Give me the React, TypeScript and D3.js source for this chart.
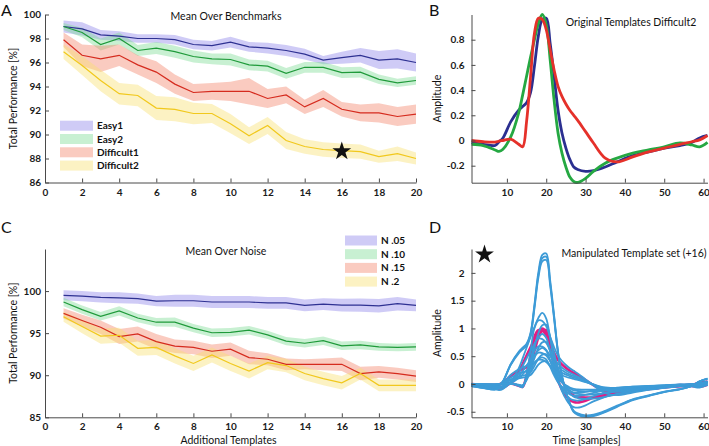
import React, { useEffect, useRef } from "react";
import * as d3 from "d3";

const width = 709;
const height = 446;
const font = "Lato, 'Open Sans', sans-serif";

// number of additional templates (x of panels A and C)
const additional = [1, 2, 3, 4, 5, 6, 7, 8, 9, 10, 11, 12, 13, 14, 15, 16, 17, 18, 19, 20];

// Panel A - mean over benchmarks
const benchLabels = ["Easy1", "Easy2", "Difficult1", "Difficult2"];
const easy1Mean = [99.0, 98.8, 98.3, 98.2, 98.0, 98.0, 97.9, 97.5, 97.4, 97.7, 97.3, 97.2, 97.0, 96.7, 96.2, 96.4, 96.6, 96.2, 96.3, 96.0];
const easy1Sd = [0.5, 0.55, 0.4, 0.4, 0.35, 0.35, 0.4, 0.4, 0.4, 0.45, 0.4, 0.45, 0.45, 0.45, 0.35, 0.5, 0.6, 0.75, 0.8, 0.75];
const easy2Mean = [99.0, 98.5, 97.5, 98.0, 97.0, 97.2, 96.9, 96.5, 96.3, 96.25, 95.8, 95.7, 95.1, 95.6, 95.6, 95.15, 95.2, 94.6, 94.3, 94.5];
const easy2Sd = [0.3, 0.4, 0.5, 0.5, 0.45, 0.5, 0.5, 0.5, 0.45, 0.5, 0.45, 0.45, 0.45, 0.45, 0.45, 0.45, 0.45, 0.4, 0.35, 0.35];
const diff1Mean = [97.9, 96.6, 96.3, 96.6, 95.8, 95.2, 94.2, 93.5, 93.6, 93.6, 93.6, 93.0, 93.3, 92.3, 93.0, 92.1, 91.8, 91.8, 91.5, 91.7];
const diff1Sd = [0.6, 0.9, 1.1, 0.9, 0.8, 0.9, 0.8, 0.7, 0.7, 0.8, 1.1, 0.8, 0.7, 0.6, 0.7, 0.6, 0.7, 0.8, 0.8, 0.8];
const diff2Mean = [96.9, 95.75, 94.5, 93.4, 93.25, 92.2, 92.1, 91.75, 91.75, 90.9, 89.9, 90.75, 89.5, 89.0, 88.75, 88.65, 88.57, 88.15, 88.4, 88.0];
const diff2Sd = [0.6, 0.8, 0.9, 0.9, 0.9, 1.0, 1.0, 0.9, 0.8, 0.8, 0.7, 0.7, 0.7, 0.6, 0.6, 0.6, 0.6, 0.5, 0.6, 0.5];
const starTemplates = 16;
const starPerformance = 88.6;

// Panel C - mean over noise
const noiseLabels = ["N .05", "N .10", "N .15", "N .2"];
const n05Mean = [99.5, 99.4, 99.25, 99.2, 99.1, 98.8, 98.85, 98.85, 98.7, 98.7, 98.7, 98.6, 98.6, 98.3, 98.45, 98.33, 98.33, 98.25, 98.5, 98.3];
const n05Sd = [0.6, 0.6, 0.6, 0.65, 0.6, 0.6, 0.7, 0.7, 0.7, 0.7, 0.7, 0.7, 0.7, 0.7, 0.7, 0.75, 0.8, 0.8, 0.8, 0.7];
const n10Mean = [98.7, 97.8, 97.0, 97.65, 96.8, 96.3, 96.3, 95.6, 95.05, 95.1, 95.35, 94.8, 94.05, 93.8, 94.1, 93.5, 93.6, 93.37, 93.3, 93.37];
const n10Sd = [0.5, 0.5, 0.5, 0.55, 0.5, 0.5, 0.55, 0.5, 0.5, 0.5, 0.5, 0.5, 0.5, 0.5, 0.5, 0.5, 0.5, 0.45, 0.45, 0.45];
const n15Mean = [97.35, 96.5, 95.7, 94.6, 94.9, 94.0, 93.45, 93.3, 92.85, 93.1, 92.1, 91.9, 91.3, 91.3, 91.3, 91.3, 90.2, 90.4, 90.2, 89.9];
const n15Sd = [0.6, 0.7, 0.8, 0.9, 0.9, 0.9, 0.8, 0.8, 0.8, 0.8, 0.8, 0.7, 0.7, 0.6, 0.7, 0.8, 0.8, 0.7, 0.7, 0.7];
const n20Mean = [96.95, 95.8, 94.65, 94.75, 93.2, 93.3, 92.3, 91.4, 92.4, 91.4, 90.5, 91.5, 91.15, 90.2, 89.6, 89.1, 90.2, 88.8, 88.8, 88.8];
const n20Sd = [0.6, 0.8, 0.9, 0.9, 0.9, 0.9, 0.9, 0.9, 0.9, 0.9, 0.9, 0.8, 0.8, 0.8, 0.8, 0.8, 0.7, 0.7, 0.7, 0.7];

// Panel B - original templates (sample index, amplitude)
const samples = [1, 4, 7, 8, 9, 11, 13, 14, 15, 16, 17, 18, 19, 20, 21, 22, 23, 24, 25, 26, 27, 28, 30, 32, 35, 38, 42, 46, 50, 54, 57, 59, 61];
const templateNavy = [-0.016, -0.03, -0.04, -0.01, 0.02, 0.15, 0.24, 0.27, 0.3, 0.38, 0.59, 0.83, 0.96, 0.97, 0.77, 0.51, 0.24, 0.06, -0.06, -0.15, -0.21, -0.23, -0.245, -0.24, -0.21, -0.17, -0.12, -0.09, -0.06, -0.04, -0.015, 0.02, 0.04];
const templateGreen = [-0.03, -0.04, -0.075, -0.087, -0.07, 0.03, 0.22, 0.36, 0.51, 0.66, 0.8, 0.93, 1.0, 0.92, 0.64, 0.32, 0.06, -0.1, -0.21, -0.29, -0.325, -0.333, -0.3, -0.245, -0.18, -0.14, -0.1, -0.075, -0.05, -0.02, -0.035, -0.05, -0.015];
const templateRed = [0.0, -0.01, -0.013, -0.005, 0.0, 0.01, -0.03, -0.05, 0.15, 0.5, 0.85, 0.97, 0.96, 0.88, 0.72, 0.56, 0.43, 0.35, 0.29, 0.24, 0.2, 0.16, 0.07, -0.02, -0.14, -0.17, -0.13, -0.09, -0.06, -0.03, -0.01, 0.005, 0.04];

// Panel D - manipulated set: which original template and its gain
const manipTemplate = [0, 0, 0, 0, 0, 0, 0, 1, 1, 1, 1, 2, 2, 2, 2, 2];
const manipGain = [2.42, 2.36, 2.3, 1.1, 0.78, 0.55, 0.42, 1.28, 0.9, 0.65, 0.48, 1.18, 0.84, 0.7, 0.58, 0.45];

const lineColors = ["#2e3192", "#1f9a3a", "#d52b1e", "#f1c81c"];
const bandColors = ["#8c84ea", "#7ddc93", "#f2826a", "#f8e070"];
const templateColors = ["#2b2f90", "#25a842", "#e5312a"];

const axisColor = "#4a4a4a";

function styleAxis(g: any) {
  g.attr("font-family", font).attr("font-size", 10);
  g.select(".domain").attr("stroke", axisColor).attr("stroke-width", 1);
  g.selectAll(".tick line").attr("stroke", axisColor);
  g.selectAll(".tick text").attr("font-weight", "bold").attr("fill", "#1a1a1a");
}

function addText(svg: any, x: number, y: number, text: string, size: number, opts: any = {}) {
  const t = svg
    .append("text")
    .attr("x", x)
    .attr("y", y)
    .attr("font-family", font)
    .attr("font-size", size)
    .attr("fill", "#111")
    .attr("text-anchor", opts.anchor || "middle")
    .attr("font-weight", opts.weight || "normal")
    .text(text);
  if (opts.rotate) t.attr("transform", `rotate(-90,${x},${y})`);
  return t;
}

function drawPerformance(svg: any, cfg: any) {
  const x = d3.scaleLinear().domain([0, 20]).range([45, 416]);
  const y = d3.scaleLinear().domain(cfg.yDomain).range(cfg.yRange);

  const g = svg.append("g");
  cfg.means.forEach((m: number[], k: number) => {
    const sd = cfg.sds[k];
    const area = d3
      .area<number>()
      .x((d, i) => x(additional[i]))
      .y0((d, i) => y(d - sd[i]))
      .y1((d, i) => y(d + sd[i]));
    g.append("path")
      .attr("d", area(m))
      .attr("fill", bandColors[k])
      .attr("fill-opacity", 0.42);
  });

  const line = d3
    .line<number>()
    .x((d, i) => x(additional[i]))
    .y((d) => y(d));
  cfg.means.forEach((m: number[], k: number) => {
    g.append("path")
      .attr("d", line(m))
      .attr("fill", "none")
      .attr("stroke", lineColors[k])
      .attr("stroke-width", 1.2);
  });

  const xAxis = svg
    .append("g")
    .attr("transform", `translate(0,${cfg.yRange[0]})`)
    .call(
      d3
        .axisBottom(x)
        .tickValues([0, 2, 4, 6, 8, 10, 12, 14, 16, 18, 20])
        .tickSize(-4)
        .tickSizeOuter(0)
        .tickPadding(6)
        .tickFormat((d: any) => String(d))
    );
  styleAxis(xAxis);

  const yAxis = svg
    .append("g")
    .attr("transform", `translate(45,0)`)
    .call(
      d3
        .axisLeft(y)
        .tickValues(cfg.yTicks)
        .tickSize(-4)
        .tickSizeOuter(0)
        .tickPadding(4)
        .tickFormat((d: any) => String(d))
    );
  styleAxis(yAxis);

  addText(svg, 226, cfg.titleY, cfg.title, 10.5);
  addText(svg, 17, (cfg.yRange[0] + cfg.yRange[1]) / 2, "Total Performance [%]", 10.5, { rotate: true });

  // legend
  const lg = svg.append("g");
  cfg.labels.forEach((label: string, k: number) => {
    const cy = cfg.legend.y + k * cfg.legend.step;
    lg.append("rect")
      .attr("x", cfg.legend.x)
      .attr("y", cy - 5)
      .attr("width", cfg.legend.w)
      .attr("height", 10)
      .attr("fill", bandColors[k])
      .attr("fill-opacity", 0.42);
    lg.append("text")
      .attr("x", cfg.legend.x + cfg.legend.w + 4)
      .attr("y", cy + 3.5)
      .attr("font-family", font)
      .attr("font-size", 10)
      .attr("font-weight", "bold")
      .attr("fill", "#111")
      .text(label);
  });

  return { x, y };
}

function drawTemplates(svg: any, cfg: any) {
  const x = d3.scaleLinear().domain([1, 61]).range([471.5, 707.5]);
  const y = d3.scaleLinear().domain(cfg.yDomain).range(cfg.yRange);
  const line = d3
    .line<number>()
    .x((d, i) => x(samples[i]))
    .y((d) => y(d))
    .curve(d3.curveCatmullRom.alpha(0.5));

  const g = svg.append("g");
  cfg.curves.forEach((c: any) => {
    g.append("path")
      .attr("d", line(c.values))
      .attr("fill", "none")
      .attr("stroke", c.color)
      .attr("stroke-width", c.width)
      .attr("stroke-linejoin", "round");
  });

  const xAxis = svg
    .append("g")
    .attr("transform", `translate(0,${cfg.yRange[0]})`)
    .call(
      d3
        .axisBottom(x)
        .tickValues([10, 20, 30, 40, 50, 60])
        .tickSize(-4)
        .tickSizeOuter(0)
        .tickPadding(6)
        .tickFormat((d: any) => String(d))
    );
  styleAxis(xAxis);

  const yAxis = svg
    .append("g")
    .attr("transform", `translate(471.5,0)`)
    .call(
      d3
        .axisLeft(y)
        .tickValues(cfg.yTicks)
        .tickSize(-4)
        .tickSizeOuter(0)
        .tickPadding(7)
        .tickFormat((d: any) => String(d))
    );
  styleAxis(yAxis);

  addText(svg, cfg.titleX, cfg.titleY, cfg.title, 10.5);
  addText(svg, 441, (cfg.yRange[0] + cfg.yRange[1]) / 2, "Amplitude", 10.5, { rotate: true });
  return { x, y };
}

const App = () => {
  const ref = useRef<SVGSVGElement>(null);

  useEffect(() => {
    const svg = d3.select(ref.current);
    svg.selectAll("*").remove();
    const star = d3.symbol().type(d3.symbolStar).size(110);

    // A
    const a = drawPerformance(svg, {
      yDomain: [86, 100],
      yRange: [182.5, 14.5],
      yTicks: [86, 88, 90, 92, 94, 96, 98, 100],
      means: [easy1Mean, easy2Mean, diff1Mean, diff2Mean],
      sds: [easy1Sd, easy2Sd, diff1Sd, diff2Sd],
      labels: benchLabels,
      title: "Mean Over Benchmarks",
      titleY: 20,
      legend: { x: 60, y: 125.7, step: 13.3, w: 33 },
    });
    svg
      .append("path")
      .attr("d", star())
      .attr("transform", `translate(${a.x(starTemplates)},${a.y(starPerformance)})`)
      .attr("fill", "#111");

    // C
    const c = drawPerformance(svg, {
      yDomain: [85, 105],
      yRange: [417.3, 249],
      yTicks: [85, 90, 95, 100],
      means: [n05Mean, n10Mean, n15Mean, n20Mean],
      sds: [n05Sd, n10Sd, n15Sd, n20Sd],
      labels: noiseLabels,
      title: "Mean Over Noise",
      titleY: 254.5,
      legend: { x: 345, y: 240.5, step: 13.7, w: 32 },
    });
    addText(svg, (c.x(0) + c.x(20)) / 2 - 2, 443.5, "Additional Templates", 10.5);

    // B
    const templates = [templateNavy, templateGreen, templateRed];
    drawTemplates(svg, {
      yDomain: [-0.335, 1.0],
      yRange: [182.7, 14.5],
      yTicks: [-0.2, 0, 0.2, 0.4, 0.6, 0.8],
      curves: templates.map((t, k) => ({ values: t, color: templateColors[k], width: 2.8 })),
      title: "Original Templates Difficult2",
      titleX: 631,
      titleY: 26,
    });

    // D
    const manipulated = manipTemplate.map((t, k) => templates[t].map((v) => v * manipGain[k]));
    const d = drawTemplates(svg, {
      yDomain: [-0.6, 2.43],
      yRange: [417.3, 249],
      yTicks: [-0.5, 0, 0.5, 1, 1.5, 2],
      curves: [
        ...templates.map((t) => ({ values: t, color: "#e01e84", width: 2.6 })),
        ...manipulated.map((t) => ({ values: t, color: "#3d9bd7", width: 1.8 })),
      ],
      title: "Manipulated Template set (+16)",
      titleX: 634,
      titleY: 257,
    });
    addText(svg, (d.x(1) + d.x(61)) / 2 - 3, 443.5, "Time [samples]", 10.5);
    svg
      .append("path")
      .attr("d", star())
      .attr("transform", `translate(484.5,254.5)`)
      .attr("fill", "#111");

    // panel letters
    addText(svg, 1, 16, "A", 16, { anchor: "start" });
    addText(svg, 429, 16, "B", 16, { anchor: "start" });
    addText(svg, 1, 233, "C", 16, { anchor: "start" });
    addText(svg, 429, 233, "D", 16, { anchor: "start" });
  }, []);

  return (
    <svg
      ref={ref}
      width={width}
      height={height}
      viewBox={`0 0 ${width} ${height}`}
      style={{ position: "absolute", left: 0, top: 0, background: "#fff" }}></svg>
  );
};

export default App;
